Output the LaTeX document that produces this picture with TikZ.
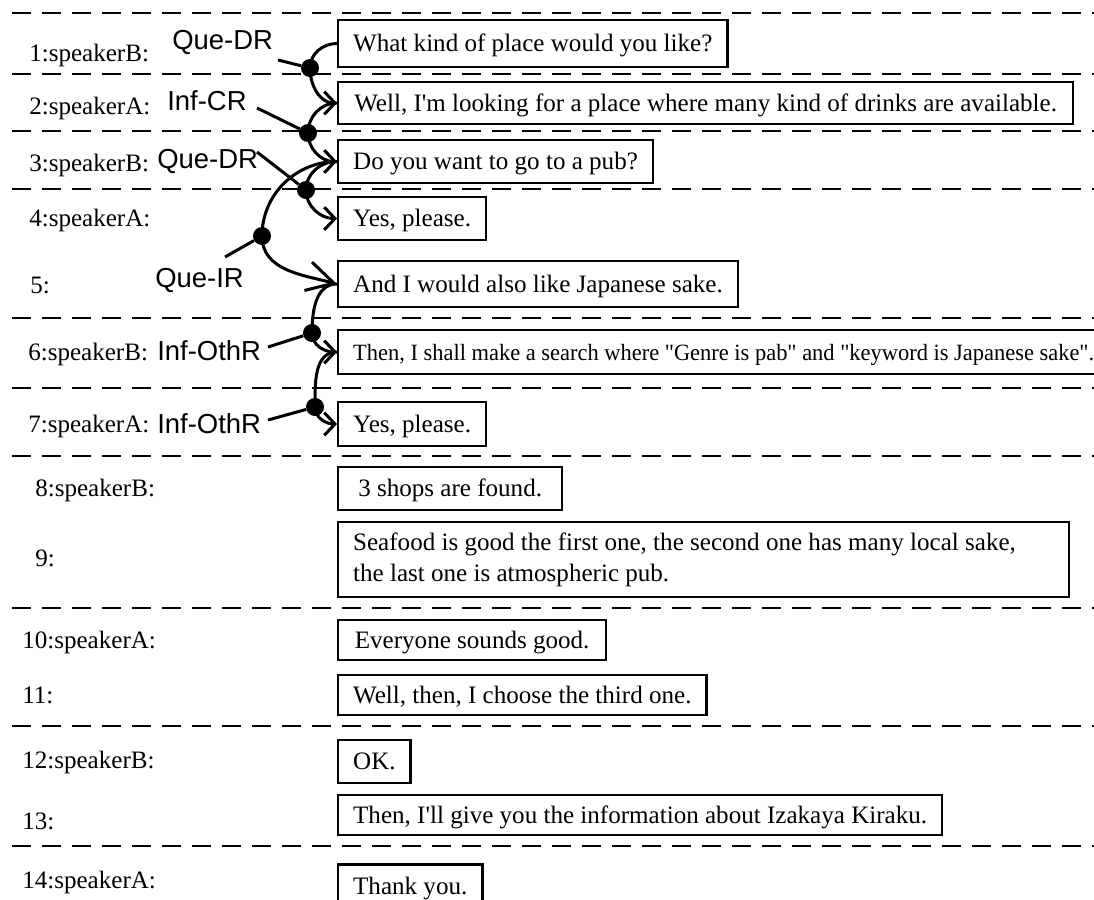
\documentclass[tikz,border=0pt]{standalone}
\usepackage{fontspec}
\usepackage{graphicx}
\setmainfont{Liberation Serif}
\newfontfamily\uttfont{Liberation Serif}
\newfontfamily\actfont{Liberation Sans}
\usetikzlibrary{arrows.meta}
\begin{document}
\begin{tikzpicture}[x=0.75pt,y=0.75pt,
  boxbase/.style={draw,line width=1.75pt,anchor=west,inner xsep=11.25pt,inner ysep=0pt,
    font=\uttfont\fontsize{18.8pt}{23.25pt}\selectfont},
  utter/.style={boxbase,text height=17.3pt,text depth=5pt},
  spk/.style={anchor=base west,inner sep=0pt,font=\uttfont\fontsize{18.8pt}{23.25pt}\selectfont},
  act/.style={anchor=base west,inner sep=0pt,font=\actfont\fontsize{20.6pt}{24pt}\selectfont},
  sep/.style={line width=1.75pt,dash pattern=on 14.25pt off 8.25pt},
  link/.style={line width=2.25pt},
  hub/.style={circle,fill,inner sep=0pt,minimum size=13.5pt},
  tip/.style={-{Straight Barb[length=8pt,width=17pt]}},
  bigtip/.style={-{Straight Barb[length=20pt,width=22pt]}},
]
\clip (0,0) rectangle (1094,-899);

% turn separators
\foreach \y in {13,74,131,189,318,388,456,608,726,846}
  \draw[sep] (12,-\y) -- (1100,-\y);

% speaker / turn labels
\node[spk] (s1)  at (29,-61)  {1:speakerB:};
\node[spk] (s2)  at (29,-114) {2:speakerA:};
\node[spk] (s3)  at (29,-171) {3:speakerB:};
\node[spk] (s4)  at (29,-226) {4:speakerA:};
\node[spk] (s5)  at (30,-293) {5:};
\node[spk] (s6)  at (28,-360) {6:speakerB:};
\node[spk] (s7)  at (28,-432) {7:speakerA:};
\node[spk] (s8)  at (35,-496) {8:speakerB:};
\node[spk] (s9)  at (35,-566) {9:};
\node[spk] (s10) at (22,-648) {10:speakerA:};
\node[spk] (s11) at (22,-703) {11:};
\node[spk] (s12) at (22,-768) {12:speakerB:};
\node[spk] (s13) at (22,-829) {13:};
\node[spk] (s14) at (22,-888) {14:speakerA:};

% utterances
\node[utter,minimum height=35.25pt,minimum width=291.75pt] (b1) at (337,-43.5) {What kind of place would you like?};
\node[utter,minimum height=31.5pt,minimum width=551.25pt]  (b2) at (337,-103) {Well, I'm looking for a place where many kind of drinks are available.};
\node[utter,minimum height=32.25pt,minimum width=235.5pt] (b3) at (337,-161.5) {Do you want to go to a pub?};
\node[utter,minimum height=32.25pt,minimum width=109.5pt] (b4) at (337,-218.5) {Yes, please.};
\node[utter,minimum height=34.5pt,minimum width=297pt]  (b5) at (337,-284) {And I would also like Japanese sake.};
\node[utter,minimum height=33pt]    (b6) at (337,-352) {\resizebox{555.75pt}{\height}{\fontsize{17.5pt}{21pt}\selectfont Then, I shall make a search where "Genre is pab" and "keyword is Japanese sake".}};
\node[utter,minimum height=33pt,minimum width=111pt]    (b7) at (337,-424) {Yes, please.};
\node[utter,minimum height=32.25pt,minimum width=168pt] (b8) at (337,-488.5) {3 shops are found.};
\node[boxbase,align=flush left,text width=525.75pt,minimum height=56.25pt] (b9) at (337,-559.5) {Seafood is good the first one, the second one has many local sake,\\the last one is atmospheric pub.};
\node[utter,minimum height=30pt,minimum width=201pt]    (b10) at (337,-640) {Everyone sounds good.};
\node[utter,minimum height=30pt,minimum width=274.5pt]    (b11) at (337,-695) {Well, then, I choose the third one.};
\node[utter,minimum height=32.25pt,minimum width=51.75pt] (b12) at (337,-761.5) {OK.};
\node[utter,minimum height=30pt]    (b13) at (337,-815) {Then, I'll give you the information about Izakaya Kiraku.};
\node[utter,minimum height=32.25pt,minimum width=104.25pt] (b14) at (337,-886) {Thank you.};

% relation labels
\node[act] (a1)  at (172,-50)  {Que-DR};
\node[act] (a2)  at (167,-110) {Inf-CR};
\node[act] (a3)  at (157,-168) {Que-DR};
\node[act] (aIR) at (155,-287) {Que-IR};
\node[act] (a6)  at (157,-360) {Inf-OthR};
\node[act] (a7)  at (157,-433) {Inf-OthR};

% relation hubs
\node[hub] (d1)  at (310,-68)  {};
\node[hub] (d2)  at (308,-133) {};
\node[hub] (d3)  at (306,-190) {};
\node[hub] (dIR) at (262,-236) {};
\node[hub] (d6)  at (312,-333) {};
\node[hub] (d7)  at (315,-407) {};

% label leader ends
\coordinate (t1)  at (278,-60);
\coordinate (t2)  at (257,-108);
\coordinate (t3)  at (257,-152);
\coordinate (tIR) at (225,-257);
\coordinate (t6)  at (268,-347);
\coordinate (t7)  at (268,-420);

% relation arcs
\draw[link,tip] (b1.west) to[out=180,in=90] (d1.center) to[out=-90,in=180] (b2.west);
\draw[link,tip] (b2.west) to[out=180,in=90] (d2.center) to[out=-90,in=180] (b3.west);
\draw[link,tip] (b3.west) to[out=180,in=90] (d3.center) to[out=-90,in=180] (b4.west);
\draw[link,bigtip] (b3.west) to[out=180,in=90] (dIR.center) to[out=-90,in=165] (b5.west);
\draw[link,tip] (b5.west) to[out=180,in=90] (d6.center) to[out=-90,in=180] (b6.west);
\draw[link,tip] (b6.west) to[out=180,in=90] (d7.center) to[out=-90,in=180] (b7.west);

% leaders from labels to hubs
\draw[link] (t1)  -- (d1);
\draw[link] (t2)  -- (d2);
\draw[link] (t3)  -- (d3);
\draw[link] (tIR) -- (dIR);
\draw[link] (t6)  -- (d6);
\draw[link] (t7)  -- (d7);
\end{tikzpicture}
\end{document}
